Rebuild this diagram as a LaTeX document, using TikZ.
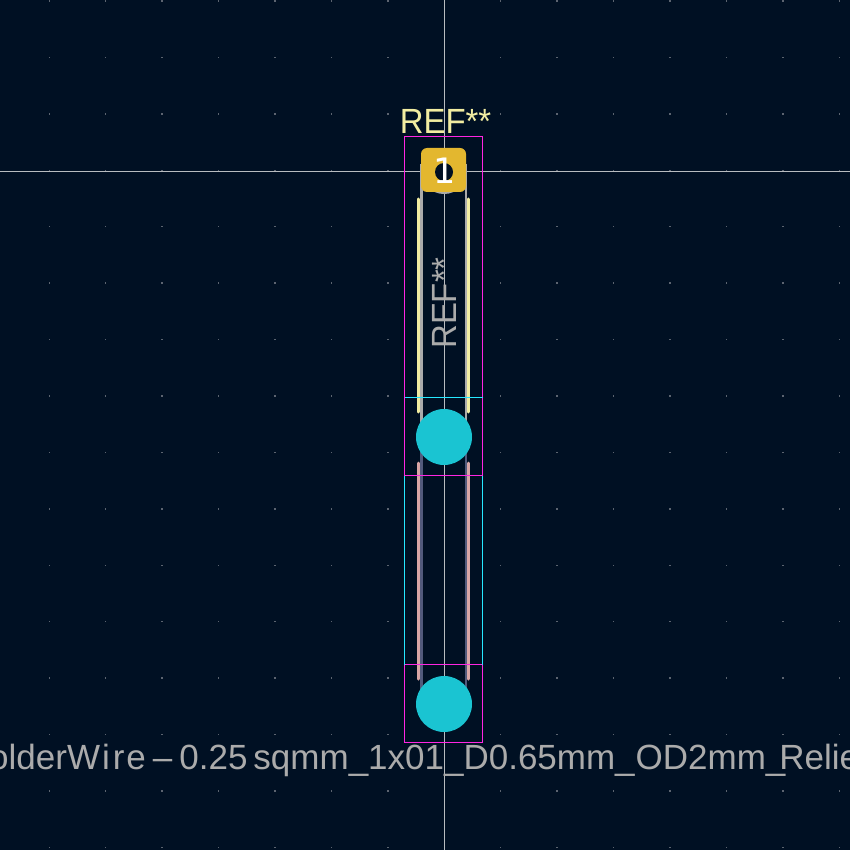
\documentclass[tikz,border=0pt]{standalone}
\usepackage{fontspec}
\setmainfont{Liberation Sans}
\newfontfamily\padfont{DejaVu Sans}
\definecolor{boardbg}{HTML}{001023}
\definecolor{griddot}{HTML}{5C6470}
\definecolor{crossline}{HTML}{B8BCC0}
\definecolor{courtyard}{HTML}{FF26E2}
\definecolor{fabcyan}{HTML}{26E8FF}
\definecolor{padgold}{HTML}{E3B72F}
\definecolor{padhole}{HTML}{1AC4D2}
\definecolor{silkyellow}{HTML}{F2EDA1}
\definecolor{silkpink}{HTML}{D9A6A6}
\definecolor{wiregray}{HTML}{ABABAB}
\definecolor{wireblue}{HTML}{525A7C}
\tikzset{
  silkline/.style={line width=3pt,line cap=round},
  wireline/.style={line width=2.4pt},
  outline/.style={line width=1pt},
  fptext/.style={inner sep=0pt,font=\fontsize{35}{35}\selectfont},
  holepad/.style={circle,fill=padhole,minimum size=56pt,inner sep=0pt},
}
\begin{document}
\begin{tikzpicture}[x=1pt,y=-1pt]
\useasboundingbox (0,0) rectangle (850,850);
\fill[boardbg] (0,0) rectangle (850,850);
\clip (0,0) rectangle (850,850);
% grid
\foreach \i in {0,...,14}
  \foreach \j in {0,...,15}
    \fill[griddot] ({49.3+56.43*\i-0.7},{1+56.43*\j-0.7}) rectangle ++(1.4,1.4);
\draw[outline,crossline] (444.5,0) -- (444.5,850);
\draw[outline,crossline] (0,171.5) -- (850,171.5);
% wire
\draw[wireline,wiregray] (421.5,164) -- (421.5,430);
\draw[wireline,wiregray] (466.2,164) -- (466.2,430);
\draw[wireline,wireblue] (421.5,445) -- (421.5,700);
\draw[wireline,wireblue] (466.2,445) -- (466.2,700);
\draw[wiregray,line width=2pt] (444,171) circle (22);
% silk
\draw[silkline,silkyellow] (418.5,199) -- (418.5,412);
\draw[silkline,silkyellow] (468.5,199) -- (468.5,412);
\draw[silkline,silkpink] (418.5,463) -- (418.5,679);
\draw[silkline,silkpink] (468.5,463) -- (468.5,679);
% outlines
\draw[outline,courtyard] (404.5,475.5) -- (404.5,136.5) -- (482.5,136.5) -- (482.5,475.5) -- cycle;
\draw[outline,courtyard] (404.5,664.5) rectangle (482.5,742.5);
\draw[outline,fabcyan] (404.5,475.5) -- (404.5,664.5);
\draw[outline,fabcyan] (482.5,475.5) -- (482.5,664.5);
\draw[outline,fabcyan] (404.5,397.5) -- (482.5,397.5);
% pads
\node (pad1) at (443.5,170)[fill=padgold,rounded corners=6pt,minimum width=45pt,minimum height=44pt,inner sep=0pt]{};
\fill[boardbg] (444,172) circle (9);
\node (padnum) at (444.5,170.5)[inner sep=0pt,text=white,font=\padfont\fontsize{35}{35}\selectfont]{1};
\node (hole1) at (444,437)[holepad]{};
\node (hole2) at (444,704)[holepad]{};
% texts
\node (refname) at (445.5,121)[fptext,text=silkyellow]{\scalebox{0.94}[1]{REF**}};
\node (refsilk) at (444,303)[fptext,text=wiregray,rotate=90]{\scalebox{0.94}[1]{REF**}};
\node (fpname) at (-11,760)[fptext,anchor=west,text=wiregray]{olderW\kern2pt i\kern3pt r\kern2pt e\kern7pt--\kern7pt 0.25\kern6pt sqmm\_1x01\_D0.65mm\_\kern1pt OD2mm\_\kern-6pt Relie};
\end{tikzpicture}
\end{document}
